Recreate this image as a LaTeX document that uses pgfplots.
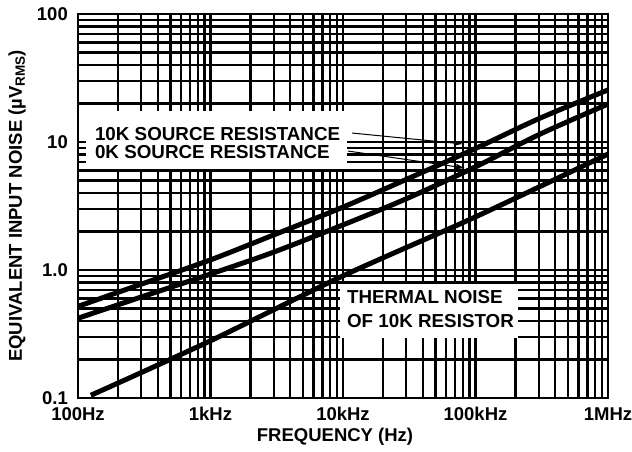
\documentclass[border=0pt]{standalone}
\usepackage{fontspec}
\setmainfont{Liberation Sans}
\usepackage{pgfplots}
\pgfplotsset{compat=1.18}
\usetikzlibrary{arrows.meta}

\begin{document}
\begin{tikzpicture}
\begin{loglogaxis}[name=ax, scale only axis, width=530pt, height=384pt,
 xmin=100, xmax=1e6, ymin=0.1, ymax=100,
 xtick={100,1000,10000,100000,1000000}, xticklabels={100Hz,1kHz,10kHz,100kHz,1MHz},
 ytick={0.1,1,10,100}, yticklabels={0.1,1.0,10,100},
 grid=both,
 major grid style={black,line width=2.3pt},
 minor grid style={black,line width=2.3pt},
 axis line style={black,line width=2.3pt},
 major tick length=0pt, minor tick length=0pt,
 tick label style={font=\fontsize{18.5}{20}\selectfont\bfseries},
 xticklabel style={anchor=center, yshift=-16pt},
 yticklabel style={anchor=east, inner sep=0pt, xshift=-10pt},
 xlabel={FREQUENCY (Hz)},
 ylabel={EQUIVALENT INPUT NOISE (µV\raisebox{-3pt}{\fontsize{13.5}{14}\selectfont RMS})},
 every axis x label/.style={at={(axis description cs:0.485,-0.1016)}, anchor=center, font=\fontsize{18.5}{20}\selectfont\bfseries},
 every axis y label/.style={at={(axis description cs:-0.115,0.5)}, rotate=90, anchor=center, font=\fontsize{18.5}{20}\selectfont\bfseries},
]
\addplot[black, line width=5pt, smooth] coordinates {(100,0.52)(300,0.775)(1000,1.2)(3000,1.88)(10000,3.1)(30000,5.1)(100000,8.9)(300000,15.2)(1000000,25.5)};
\addplot[black, line width=5pt, smooth] coordinates {(100,0.42)(300,0.615)(1000,0.93)(3000,1.38)(10000,2.25)(30000,3.6)(100000,6.4)(300000,11.4)(1000000,19.8)};
\addplot[black, line width=5pt, smooth] coordinates {(125,0.105)(1000,0.28)(10000,0.9)(100000,2.6)(1000000,8.05)};
\fill[white] (axis cs:115,6.15) rectangle (axis cs:10700,17.5);
\fill[white] (axis cs:9480,0.294) rectangle (axis cs:209000,0.778);
\node[anchor=west, inner sep=0pt, font=\fontsize{18.8}{20}\selectfont\bfseries] at (axis cs:134,11.6) {10K SOURCE RESISTANCE};
\node[anchor=west, inner sep=0pt, font=\fontsize{18.8}{20}\selectfont\bfseries] at (axis cs:134,8.3) {0K SOURCE RESISTANCE};
\node[anchor=west, inner sep=0pt, font=\fontsize{18.8}{20}\selectfont\bfseries] at (axis cs:10700,0.61) {THERMAL NOISE};
\node[anchor=west, inner sep=0pt, font=\fontsize{18.8}{20}\selectfont\bfseries] at (axis cs:10700,0.40) {OF 10K RESISTOR};
\draw[-{Latex[length=9pt,width=6pt]}, line width=1pt] (axis cs:11700,11.75) -- (axis cs:80500,9.65);
\draw[-{Latex[length=9pt,width=6pt]}, line width=1pt] (axis cs:10900,8.5) -- (axis cs:83400,6.26);
\end{loglogaxis}
\pgfresetboundingbox
\path ([shift={(-78pt,-53pt)}]ax.south west) rectangle ([shift={(24pt,14pt)}]ax.north east);
\end{tikzpicture}
\end{document}
